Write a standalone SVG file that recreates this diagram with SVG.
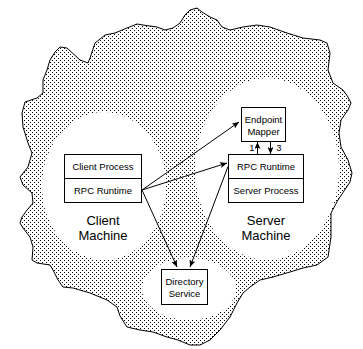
<svg xmlns="http://www.w3.org/2000/svg" width="363" height="349" viewBox="0 0 363 349">
<style>
.box{fill:#fff;stroke:#000;stroke-width:1}
.t{font-family:"Liberation Sans",Arial,sans-serif;font-size:9.5px;fill:#000;text-anchor:middle}
.big{font-family:"Liberation Sans",Arial,sans-serif;font-size:13px;fill:#000;text-anchor:middle}
.ln{stroke:#000;stroke-width:1;fill:none}
.hole{fill:#fff;stroke:none}
</style>
<defs>
<pattern id="stip" width="4" height="4" patternUnits="userSpaceOnUse">
<rect x="0" y="0" width="4" height="4" fill="#fff"/>
<rect x="0" y="0" width="1" height="1" fill="#000"/>
<rect x="2" y="2" width="1" height="1" fill="#000"/>
</pattern>
<marker id="ah" markerWidth="7" markerHeight="6" refX="7" refY="3" orient="auto" markerUnits="userSpaceOnUse">
<path d="M0,0 L7,3 L0,6 L1.5,3 Z" fill="#000"/>
</marker>
</defs>
<rect width="363" height="349" fill="#fff"/>
<g id="network">
<path d="M90,58 L95,43 L105,35 L115,33 L127,28 L137,24 L143,25 L157,27 L165,30 L173,28 L180,23 L185,15 L190,10 L197,8 L202,12 L210,17 L217,20 L222,27 L230,30 L243,27 L257,25 L270,27 L287,33 L303,38 L320,40 L327,43 L330,53 L328,70 L333,83 L343,90 L348,97 L351,103 L348,110 L341,120 L339,133 L341,147 L348,160 L352,173 L350,182 L338,200 L331,213 L331,237 L328,257 L317,265 L303,268 L290,272 L273,277 L260,280 L250,287 L243,293 L237,303 L230,317 L220,330 L210,340 L200,345 L190,345 L178,340 L167,337 L153,332 L140,330 L127,327 L120,316 L117,307 L107,300 L90,293 L73,288 L63,287 L58,280 L53,270 L50,265 L37,263 L32,260 L33,247 L30,237 L23,228 L20,223 L22,217 L27,210 L33,203 L32,193 L23,185 L20,177 L28,167 L32,153 L28,143 L23,127 L22,113 L25,102 L37,98 L43,93 L43,80 L47,70 L50,60 L55,52 L60,47 L67,48 L80,60 L88,63 Z" fill="url(#stip)" stroke="#000" stroke-width="1"/>
<ellipse class="hole" cx="104" cy="186" rx="62" ry="74"/>
<ellipse class="hole" cx="267" cy="169" rx="72" ry="91"/>
<ellipse class="hole" cx="189" cy="289" rx="47" ry="31"/>
</g>
<g id="connectors">
<line class="ln" x1="142" y1="190" x2="239" y2="122" marker-end="url(#ah)"/>
<line class="ln" x1="142" y1="190" x2="227" y2="163" marker-end="url(#ah)"/>
<line class="ln" x1="142" y1="190" x2="177" y2="267" marker-end="url(#ah)"/>
<line class="ln" x1="228" y1="166.5" x2="190" y2="267" marker-end="url(#ah)"/>
<line class="ln" x1="257.5" y1="154" x2="257.5" y2="142" marker-end="url(#ah)"/>
<line class="ln" x1="270.5" y1="142" x2="270.5" y2="154" marker-end="url(#ah)"/>
<text class="t" x="252" y="151">1</text>
<text class="t" x="279" y="151">3</text>
</g>
<g id="client">
<rect class="box" x="64.5" y="154.5" width="77" height="48"/>
<line class="ln" x1="64.5" y1="178.5" x2="141.5" y2="178.5"/>
<text class="t" x="103" y="169.5">Client Process</text>
<text class="t" x="103" y="193.5">RPC Runtime</text>
<text class="big" x="103" y="225">Client</text>
<text class="big" x="103" y="240">Machine</text>
</g>
<g id="server">
<rect class="box" x="228.5" y="154.5" width="75" height="48"/>
<line class="ln" x1="228.5" y1="178.5" x2="303.5" y2="178.5"/>
<text class="t" x="266" y="169.5">RPC Runtime</text>
<text class="t" x="266" y="193.5">Server Process</text>
<text class="big" x="266" y="225">Server</text>
<text class="big" x="266" y="240">Machine</text>
</g>
<g id="endpoint">
<rect class="box" x="241.5" y="107.5" width="44" height="34"/>
<text class="t" x="263.5" y="123">Endpoint</text>
<text class="t" x="263.5" y="134.5">Mapper</text>
</g>
<g id="directory">
<rect class="box" x="161.5" y="269.5" width="46" height="35"/>
<text class="t" x="184.5" y="285">Directory</text>
<text class="t" x="184.5" y="297">Service</text>
</g>
</svg>
